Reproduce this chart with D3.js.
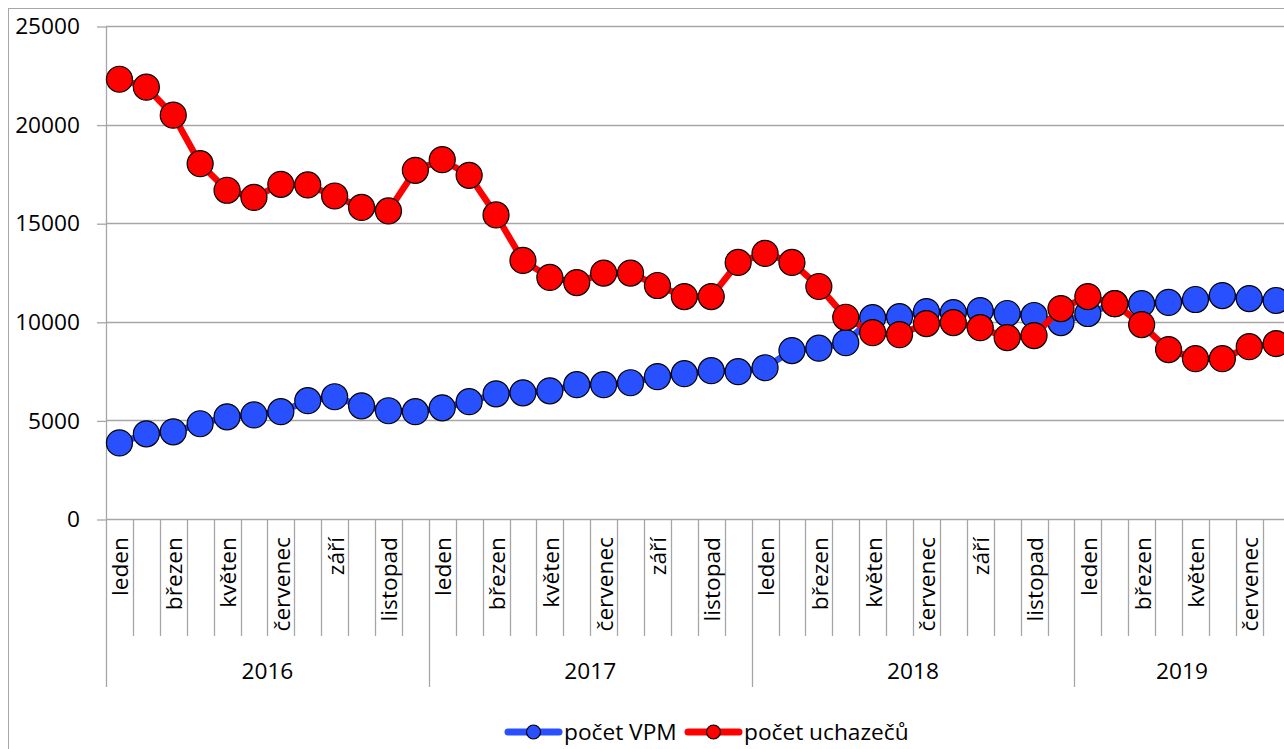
<!DOCTYPE html>
<html>
<head>
<meta charset="utf-8">
<script src="https://cdn.jsdelivr.net/npm/d3@7"></script>
<style>
  body { margin: 0; background: #fff; }
  svg { display: block; font-family: "Open Sans", sans-serif; }
</style>
</head>
<body>
<svg id="chart" width="1284" height="749"></svg>
<script>
'use strict';

// month names (labels shown every second month)
const months = ["leden", "únor", "březen", "duben", "květen", "červen",
  "červenec", "srpen", "září", "říjen", "listopad", "prosinec"];
const years = [2016, 2017, 2018, 2019];
const monthsInYear = [12, 12, 12, 8];
const yTicks = [0, 5000, 10000, 15000, 20000, 25000];

// počet VPM, leden 2016 .. srpen 2019
const vpm = [
  3860, 4320, 4420, 4830, 5180, 5280, 5440, 6000, 6200, 5740, 5490, 5440,
  5640, 5950, 6350, 6400, 6500, 6810, 6810, 6910, 7220, 7370, 7520, 7470,
  7670, 8540, 8660, 8940, 10210, 10260, 10520, 10470, 10570, 10420, 10320, 9960,
  10420, 10920, 10920, 10980, 11130, 11330, 11180, 11080
];
// počet uchazečů
const uchazeci = [
  22300, 21900, 20480, 18020, 16670, 16310, 16970, 16940, 16380, 15800, 15620, 17680,
  18220, 17430, 15420, 13110, 12250, 11990, 12470, 12470, 11840, 11280, 11280, 13010,
  13470, 13010, 11790, 10230, 9450, 9350, 9910, 9960, 9700, 9200, 9300, 10670,
  11280, 10920, 9860, 8590, 8130, 8130, 8740, 8890
];

const series = [
  {name: "počet VPM", values: vpm, color: "#2850FF"},
  {name: "počet uchazečů", values: uchazeci, color: "#FF0000"}
];

// build the category list: one entry per month
const cats = [];
years.forEach(function (yr, yi) {
  for (let m = 0; m < monthsInYear[yi]; m++) {
    cats.push({year: yr, month: m, label: months[m]});
  }
});

const svg = d3.select("#chart");
const plotLeft = 106, plotTop = 26, plotBottom = 519;
const monthW = 26.9;
const fontSize = 22.7;
const gridColor = "#a6a6a6";

const x = d3.scaleBand()
  .domain(d3.range(cats.length))
  .range([plotLeft, plotLeft + cats.length * monthW]);
const y = d3.scaleLinear().domain([0, 25000]).range([plotBottom, plotTop]);

// outer chart frame (cut off on the right / bottom)
svg.append("rect")
  .attr("x", 8.5).attr("y", 8.5)
  .attr("width", 1400).attr("height", 800)
  .attr("fill", "none").attr("stroke", gridColor).attr("stroke-width", 1);

// gridlines
svg.append("g")
  .selectAll("line")
  .data(yTicks)
  .enter().append("line")
  .attr("x1", plotLeft).attr("x2", x.range()[1])
  .attr("y1", d => Math.round(y(d)) + 0.5)
  .attr("y2", d => Math.round(y(d)) + 0.5)
  .attr("stroke", gridColor).attr("stroke-width", 1.3);

// y axis ticks and labels
const yAxis = svg.append("g")
  .attr("transform", "translate(" + plotLeft + ",0.5)")
  .call(d3.axisLeft(y).tickValues(yTicks).tickSize(9).tickPadding(17)
    .tickFormat(d3.format("d")));
yAxis.select(".domain").remove();
yAxis.selectAll("line").attr("stroke", gridColor).attr("stroke-width", 1.3);
yAxis.selectAll("text")
  .attr("fill", "#000")
  .style("font-size", fontSize + "px")
  .style("font-family", "'Open Sans', sans-serif");

// vertical axis line, down through the category area
svg.append("line")
  .attr("x1", plotLeft + 0.5).attr("x2", plotLeft + 0.5)
  .attr("y1", plotTop).attr("y2", 687)
  .attr("stroke", gridColor).attr("stroke-width", 1.3);

// month / year separators
const xAxis = svg.append("g");
cats.forEach(function (c, i) {
  if (i === 0) return;
  const xx = Math.round(x(i)) + 0.5;
  xAxis.append("line")
    .attr("x1", xx).attr("x2", xx)
    .attr("y1", plotBottom).attr("y2", c.month === 0 ? 687 : 636)
    .attr("stroke", gridColor).attr("stroke-width", 1.3);
});

// month labels, every second one, rotated
xAxis.selectAll("text.month")
  .data(cats.map((c, i) => Object.assign({i: i}, c)).filter(c => c.month % 2 === 0))
  .enter().append("text")
  .attr("class", "month")
  .attr("transform", d => "translate(" + (x(d.i) + x.bandwidth() / 2 + 9) + ",537) rotate(-90)")
  .attr("text-anchor", "end")
  .style("font-size", fontSize + "px")
  .text(d => d.label);

// year labels
let start = 0;
years.forEach(function (yr, yi) {
  const x0 = x(start), x1 = x(start + monthsInYear[yi] - 1) + x.bandwidth();
  xAxis.append("text")
    .attr("x", (x0 + x1) / 2).attr("y", 679)
    .attr("text-anchor", "middle")
    .style("font-size", fontSize + "px")
    .text(yr);
  start += monthsInYear[yi];
});

// series: line then markers
const line = d3.line()
  .x((d, i) => x(i) + x.bandwidth() / 2)
  .y(d => y(d));

series.forEach(function (s) {
  svg.append("path")
    .datum(s.values)
    .attr("d", line)
    .attr("fill", "none")
    .attr("stroke", s.color)
    .attr("stroke-width", 6.5)
    .attr("stroke-linejoin", "round");
  svg.append("g")
    .selectAll("circle")
    .data(s.values)
    .enter().append("circle")
    .attr("cx", (d, i) => x(i) + x.bandwidth() / 2)
    .attr("cy", d => y(d))
    .attr("r", 13)
    .attr("fill", s.color)
    .attr("stroke", "#000")
    .attr("stroke-width", 1.2);
});

// legend
const legendPos = [505, 685];
series.forEach(function (s, i) {
  const lg = svg.append("g").attr("transform", "translate(" + legendPos[i] + ",732)");
  lg.append("line")
    .attr("x1", 3).attr("x2", 54)
    .attr("stroke", s.color).attr("stroke-width", 7)
    .attr("stroke-linecap", "round");
  lg.append("circle")
    .attr("cx", 28.5).attr("r", 7)
    .attr("fill", s.color).attr("stroke", "#000").attr("stroke-width", 1.2);
  lg.append("text")
    .attr("x", 59).attr("y", 8)
    .style("font-size", fontSize + "px")
    .text(s.name);
});
</script>
</body>
</html>
